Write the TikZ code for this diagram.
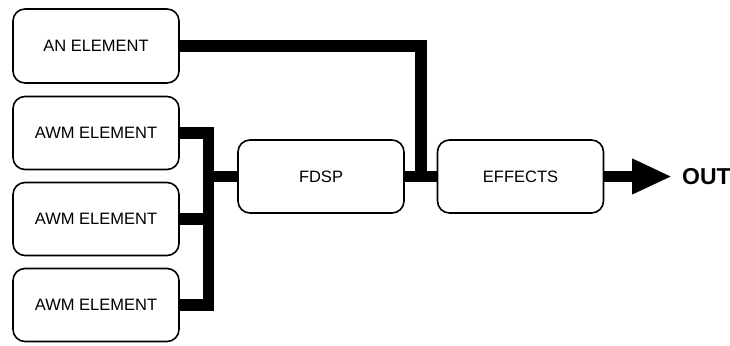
\documentclass[tikz,border=0pt]{standalone}
\usepackage{fontspec}
\setmainfont{Liberation Sans}
\usetikzlibrary{positioning,arrows.meta}

\begin{document}
\begin{tikzpicture}[x=1pt, y=1pt, font=\fontsize{16.5}{18}\selectfont,
  block/.style={draw, line width=1.6pt, rounded corners=12pt,
    minimum width=166pt, minimum height=73pt, fill=white, inner sep=0pt},
  wire/.style={line width=11.5pt, line join=miter}]
  \useasboundingbox (0,0) rectangle (730,345);
  % source elements
  \node[block, minimum height=74pt] (an) at (96,299) {AN ELEMENT};
  \foreach \y/\n in {212/1, 126/2, 40/3}{
    \node[block] (awm\n) at (96,\y) {AWM ELEMENT};
  }
  % processing chain
  \node[block] (fdsp) at (321,168.5) {FDSP};
  \node[block] (fx) at (520.5,168.5) {EFFECTS};
  \node[font=\fontsize{23}{26}\selectfont\bfseries, anchor=west, inner sep=0pt]
    (out) at (682,168.5) {OUT};
  % bus into fdsp
  \coordinate (bus) at (208.5,168.5);
  \draw[wire] (awm1.east) -| (bus |- awm3) -- (awm3.east);
  \draw[wire] (awm2.east) -- (awm2.east -| bus);
  \draw[wire] (bus) -- (fdsp.west);
  % an element joins after fdsp
  \coordinate (join) at (421,168.5);
  \draw[wire] (an.east) -| (join);
  \draw[wire] (fdsp.east) -- (fx.west);
  % output
  \draw[wire, -{Triangle[length=40pt, width=33pt]}] (fx.east) -- ([xshift=-10pt]out.west);
\end{tikzpicture}
\end{document}
